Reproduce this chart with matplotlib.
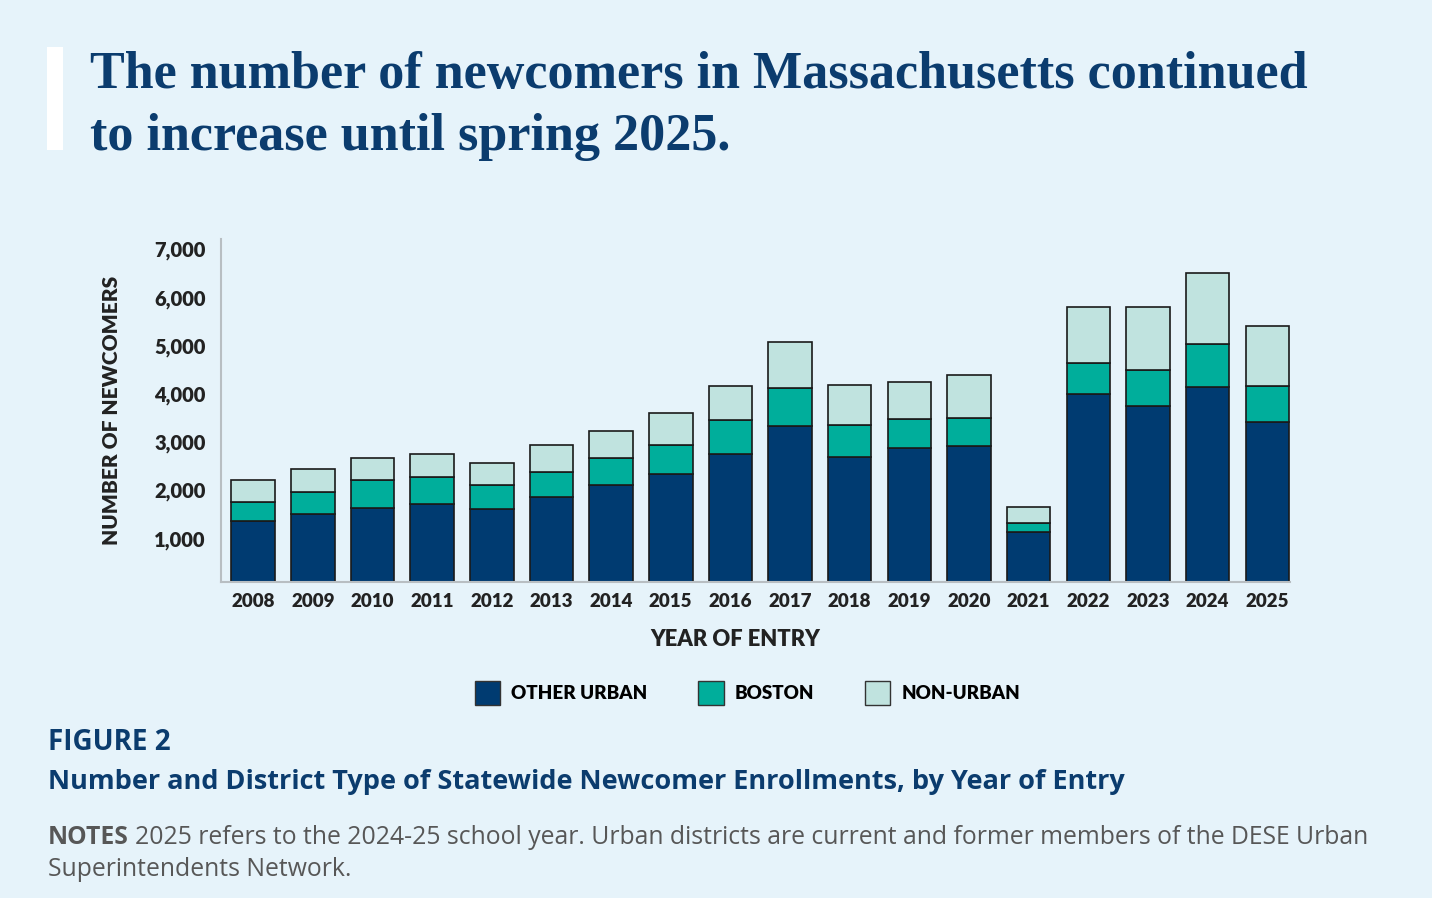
import numpy as np
import matplotlib.pyplot as plt
import matplotlib.transforms as mtransforms
from matplotlib.patches import Patch, Rectangle

# Data (newcomers by year of entry)
years = ['2008', '2009', '2010', '2011', '2012', '2013', '2014', '2015', '2016',
         '2017', '2018', '2019', '2020', '2021', '2022', '2023', '2024', '2025']
other_urban = [1272, 1417, 1542, 1618, 1521, 1757, 2012, 2247, 2649,
               3230, 2587, 2780, 2815, 1044, 3907, 3658, 4039, 3313]
boston = [394, 444, 568, 567, 485, 532, 567, 589, 705,
          788, 663, 609, 581, 187, 643, 747, 906, 760]
non_urban = [450, 477, 469, 464, 469, 560, 560, 677, 719,
             961, 830, 767, 905, 325, 1155, 1307, 1473, 1238]
y_ticks = [1000, 2000, 3000, 4000, 5000, 6000, 7000]

navy = '#003B71'
teal = '#00AE9B'
pale = '#C0E3DF'
bg = '#E6F3FA'
title_blue = '#0B3C6E'
note_gray = '#575757'
sans = ['Lato', 'DejaVu Sans']
body = ['Open Sans', 'DejaVu Sans']

fig = plt.figure(figsize=(14.32, 8.98), dpi=100, facecolor=bg)
ax = fig.add_axes([0.1543, 0.3519, 0.7465, 0.382])
ax.set_facecolor(bg)

x = np.arange(len(years))
other_urban = np.array(other_urban)
boston = np.array(boston)
non_urban = np.array(non_urban)
w = 0.73
edge = dict(edgecolor='#1a1a1a', linewidth=1.2)
ax.bar(x, other_urban, w, color=navy, **edge)
ax.bar(x, boston, w, bottom=other_urban, color=teal, **edge)
ax.bar(x, non_urban, w, bottom=other_urban + boston, color=pale, **edge)

ax.set_xlim(-0.54, len(years) - 1 + 0.38)
ax.set_ylim(0, 7120)
ax.set_xticks(x)
ax.set_xticklabels(years)
ax.set_yticks(y_ticks)
ax.set_yticklabels([f'{v:,}' for v in y_ticks])
ax.tick_params(length=0, labelsize=13.5, labelcolor='#222222', pad=8)
ax.tick_params(axis='y', labelsize=14.5, pad=11)
for lab in ax.get_xticklabels() + ax.get_yticklabels():
    lab.set_fontfamily(sans)
    lab.set_fontweight('heavy')
# y labels sit a few pixels below their ticks in the original
shift = mtransforms.ScaledTranslation(0, -4.5 / 100, fig.dpi_scale_trans)
for lab in ax.get_yticklabels():
    lab.set_transform(lab.get_transform() + shift)

for s in ['top', 'right']:
    ax.spines[s].set_visible(False)
for s in ['left', 'bottom']:
    ax.spines[s].set_color('#b8bec2')
    ax.spines[s].set_linewidth(1.5)

ax.set_xlabel('YEAR OF ENTRY', fontsize=15.8, fontweight='heavy', family=sans,
              color='#222222')
ax.xaxis.set_label_coords(0.481, -0.137)
ax.set_ylabel('NUMBER OF NEWCOMERS', fontsize=15, fontweight='heavy', family=sans,
              color='#222222', labelpad=24)

handles = [Patch(facecolor=navy, edgecolor='#333', label='OTHER URBAN'),
           Patch(facecolor=teal, edgecolor='#333', label='BOSTON'),
           Patch(facecolor=pale, edgecolor='#333', label='NON-URBAN')]
fig.legend(handles=handles, loc='center', bbox_to_anchor=(0.522, 1 - 693 / 898),
           ncol=3, frameon=False, handlelength=1.35, handleheight=1.6,
           columnspacing=2.7, handletextpad=0.6,
           prop=dict(family=sans, weight='heavy', size=13.5))

# title block
fig.patches.append(Rectangle((47 / 1432, 1 - 150 / 898), 16 / 1432, 103 / 898,
                             transform=fig.transFigure, facecolor='white',
                             edgecolor='none'))
serif = ['Liberation Serif', 'DejaVu Serif']
fig.text(90 / 1432, 1 - 88 / 898, 'The number of newcomers in Massachusetts continued',
         family=serif, weight='bold', size=37.5, color=title_blue, va='baseline')
fig.text(90 / 1432, 1 - 150 / 898, 'to increase until spring 2025.',
         family=serif, weight='bold', size=37.5, color=title_blue, va='baseline')

fig.text(48 / 1432, 1 - 750 / 898, 'FIGURE 2', family=body, weight='bold',
         size=20, color=title_blue, va='baseline')
fig.text(48 / 1432, 1 - 789 / 898,
         'Number and District Type of Statewide Newcomer Enrollments, by Year of Entry',
         family=body, weight='bold', size=19.5, color=title_blue, va='baseline')

notes = fig.text(48 / 1432, 1 - 844 / 898, 'NOTES', family=body, weight='bold',
                 size=17.8, color=note_gray, va='baseline')
fig.canvas.draw()
nb = notes.get_window_extent()
fig.text((nb.x1 + 6) / 1432, 1 - 844 / 898,
         '2025 refers to the 2024-25 school year. Urban districts are current '
         'and former members of the DESE Urban',
         family=body, size=17.8, color=note_gray, va='baseline')
fig.text(48 / 1432, 1 - 876 / 898, 'Superintendents Network.', family=body, size=17.8,
         color=note_gray, va='baseline')

fig.savefig('out.png', dpi=100, facecolor=bg)
